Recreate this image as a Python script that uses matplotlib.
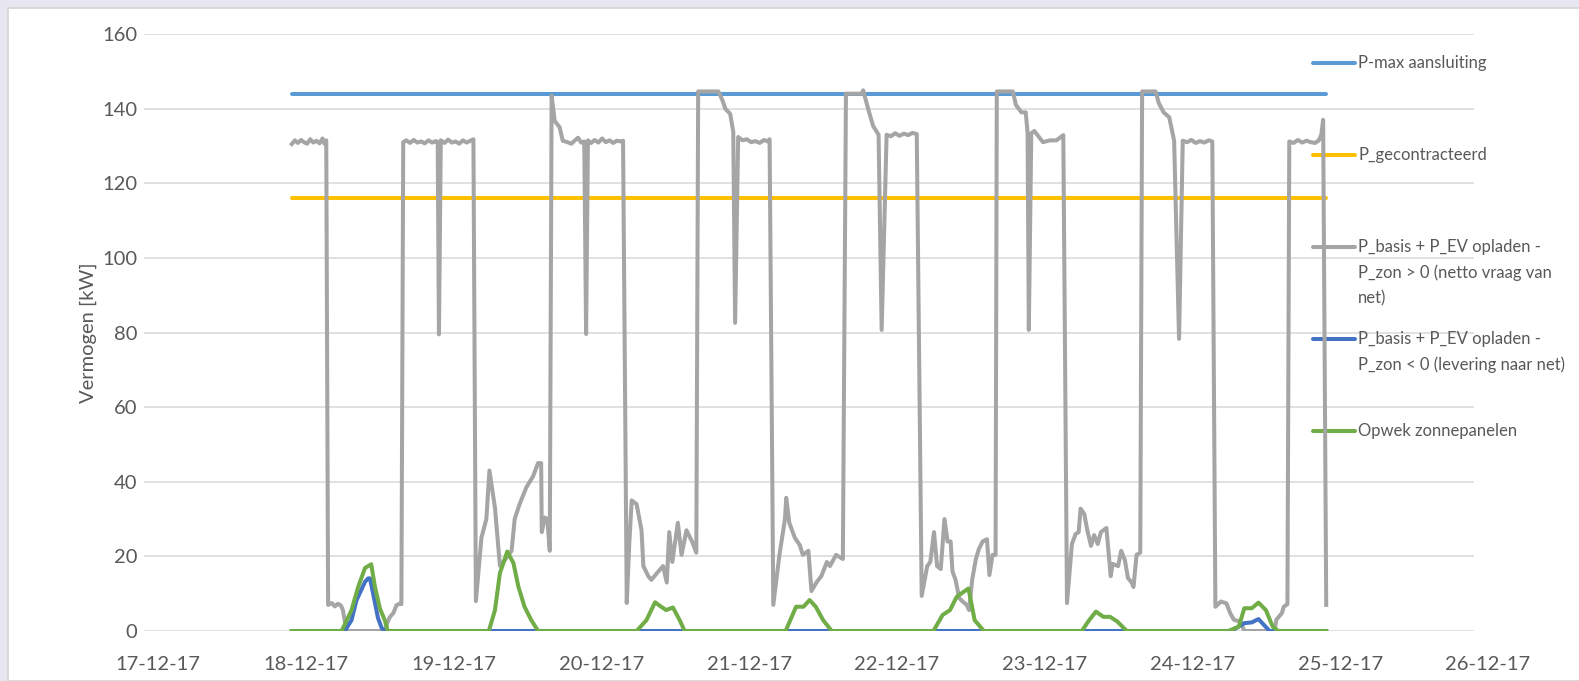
import matplotlib
matplotlib.use("Agg")
import matplotlib.pyplot as plt
import matplotlib.dates as mdates
import matplotlib.transforms as mtransforms
import pandas as pd
from matplotlib.lines import Line2D
from matplotlib.patches import Rectangle

plt.rcParams["font.family"] = ["Lato", "DejaVu Sans"]

START = pd.Timestamp("2017-12-18 00:00")

# horizontal reference levels [kW]
p_max = 144.0
p_contract = 116.0

# net demand from grid (grey), hours since 18-12-17 00:00 -> kW
grey_h = [0, 0.5, 1.0, 1.5, 2.0, 2.5, 3.0, 3.5, 4.0, 4.5, 5.0, 5.3, 5.6,
          5.9, 6.5, 7.0, 7.5, 8.0, 8.3, 8.9, 15.1, 15.5, 15.9, 16.5, 17.0, 17.5, 17.8,
          18.1, 18.6, 19.2, 19.8, 20.4, 21.0, 21.6, 22.2, 22.8, 23.4, 23.7, 23.9, 24.2,
          24.8, 25.4, 26.0, 26.6, 27.2, 27.8, 28.4, 29.0, 29.5,
          29.9, 30.8, 31.6, 32.1, 33.0, 33.8, 34.6, 35.7, 36.2, 37.0, 38.1, 39.2, 40.0,
          40.5, 40.6, 41.1, 41.5, 41.9,
          42.2, 42.7, 43.5, 44.0, 44.8, 45.4, 46.0, 46.5, 47.0, 47.5, 47.8, 48.1,
          48.6, 49.2, 49.8, 50.4, 51.0, 51.6, 52.2, 52.8, 53.4, 53.8,
          54.4, 54.8, 55.2, 56.0, 56.8, 57.1, 57.9, 58.4, 59.3, 60.3, 60.9, 61.3, 61.8,
          62.7, 63.3, 64.1, 65.0, 65.7,
          66.0, 69.3, 70.0, 70.4, 71.2, 71.7, 72.0, 72.5, 73.2, 73.9, 74.6, 75.3, 76.0,
          76.7, 77.3, 77.6,
          78.2, 79.2, 80.1, 80.3, 80.8, 81.7, 82.5, 83.0, 83.9, 84.4, 85.2, 86.0, 86.9,
          87.4, 88.4, 89.5,
          90.0, 92.6, 92.8, 93.6, 94.4, 95.3, 95.8, 96.6, 97.3, 98.0, 98.7, 99.4, 100.1,
          100.8, 101.5,
          102.3, 103.2, 103.7, 104.3, 104.8, 105.4, 106.0, 106.5, 107.0, 107.3, 107.8,
          108.4, 108.9, 109.6, 110.0, 110.5, 111.1, 111.6, 112.2, 112.9, 113.3, 113.8, 114.3,
          114.5, 117.1, 117.6, 118.5, 119.2, 119.5, 119.7, 120.1, 120.6, 122.0, 123.1,
          124.2, 125.3,
          125.9, 126.7, 127.3, 127.8, 128.1, 128.7, 129.2, 129.8, 130.3, 130.9, 131.4,
          132.3, 133.0, 133.3, 134.2, 134.7, 135.3, 135.8, 136.4, 136.7, 137.2, 137.8,
          138.1, 140.3, 140.8, 141.6, 142.5, 143.3, 144.1, 144.7, 145.4, 146.1, 146.8,
          147.5, 148.2, 148.9, 149.5,
          150.0, 150.9, 151.8, 152.4, 153.0, 154.1, 154.7, 159.6, 159.9, 160.8, 161.1, 161.7,
          162.0, 162.7, 163.4, 164.1, 164.8, 165.5, 166.2, 166.8, 167.2, 167.5, 168.0]
grey_kw = [130.5, 131.5, 130.8, 131.6, 131.0, 130.6, 131.8, 130.9, 131.4, 130.7, 132.0, 130.6, 131.5,
           7.0, 7.5, 6.6, 7.3, 6.8, 5.6, 0, 0, 2.1, 3.7, 4.8, 6.9, 7.3, 7.2,
           131.0, 131.5, 130.8, 131.6, 130.9, 131.2, 130.7, 131.5, 130.9, 131.3, 131.0, 79.5, 131.5,
           130.8, 131.7, 130.9, 131.2, 130.6, 131.5, 130.9, 131.4, 131.8,
           8.0, 25, 30, 43, 33, 17.5, 19, 21.5, 30, 34, 38.5, 41.5, 45,
           45, 26.5, 30.4, 30, 21.5,
           143.5, 136.7, 135, 131.4, 131.0, 130.6, 131.5, 132.2, 130.9, 131.2, 79.6, 131.5,
           130.8, 131.6, 130.9, 132.0, 131.0, 131.5, 130.8, 131.4, 131.2, 131.4,
           7.5, 23, 35, 34, 27, 17.4, 14.7, 13.7, 15.5, 17.4, 13, 26.5, 18.5,
           29, 20.4, 27, 24, 21,
           144.6, 144.6, 142, 140, 138.6, 133.8, 82.6, 132.4, 131.5, 131.8, 131.0, 131.3, 130.8,
           131.6, 131.2, 131.8,
           7, 20.4, 30, 35.7, 29, 25, 23, 20.4, 21.5, 10.7, 13, 14.7, 18.5,
           17.4, 20.4, 19.3,
           144, 144, 144.9, 140, 135.4, 133, 80.7, 133, 132.6, 133.4, 132.7, 133.3, 132.9,
           133.5, 133.2,
           9.4, 17.4, 18.5, 26.5, 17.4, 16.6, 30, 24, 24, 16, 13.7,
           8.8, 8, 7, 5.6, 13.7, 19.3, 22, 24, 24.6, 15, 20.4, 20.4,
           144.6, 144.6, 141, 139, 139, 133.4, 80.7, 133.4, 134, 131, 131.5,
           131.5, 132.9,
           7.5, 23.3, 26, 26.5, 32.8, 31.4, 27, 22.8, 25.7, 23.3, 26.5,
           27.6, 14.7, 18, 17.4, 21.5, 19, 14.2, 13, 11.8, 20.4, 21,
           144.6, 144.6, 141.5, 139, 137.7, 131.4, 78.3, 131.4, 131.0, 131.6, 130.8,
           131.3, 130.9, 131.5, 131.2,
           6.5, 7.9, 7.4, 4.8, 3, 2.5, 0, 0, 3, 4.8, 6.5, 7.2,
           131.2, 130.8, 131.6, 130.9, 131.4, 131.0, 130.8, 131.5, 133, 137, 7]

# export to grid (blue)
blue_h = [0, 8.6, 9.7, 10.5, 11.9, 12.4, 12.7, 13.2, 14.0, 14.6, 15.1,
          152.6, 154.7, 155.9, 157.0, 157.9, 158.8, 168]
blue_kw = [0, 0, 2.9, 8.2, 13.2, 14.1, 14.1, 10.1, 3.5, 0.8, 0,
           0, 2.1, 2.3, 3.2, 1.6, 0, 0]

# solar generation (green)
green_h = [0, 8.1, 9.7, 10.8, 11.9, 12.9, 13.5, 14.3, 15.1, 15.6,
           32.0, 33.0, 33.8, 35.0, 36.0, 36.8, 37.8, 38.9, 40.0,
           56.0, 57.6, 59.0, 60.0, 60.8, 61.9, 63.0, 63.8,
           80.2, 81.9, 83.1, 84.1, 85.1, 86.3, 87.7,
           104.2, 105.7, 106.9, 108.0, 109.9, 110.9, 112.4,
           128.3, 129.5, 130.6, 131.8, 132.9, 134.1, 135.6,
           152.1, 153.8, 154.7, 155.9, 157.0, 158.2, 159.3, 160.2, 168]
green_kw = [0, 0, 5.6, 11.9, 16.9, 17.9, 11.9, 6.1, 2.9, 0,
            0, 5.6, 15.5, 21.3, 18.2, 11.9, 6.5, 2.9, 0,
            0, 2.9, 7.7, 6.5, 5.6, 6.3, 2.9, 0,
            0, 6.5, 6.5, 8.3, 6.5, 2.9, 0,
            0, 4.3, 5.6, 9.2, 11.4, 2.9, 0,
            0, 2.9, 5.2, 3.8, 3.8, 2.5, 0,
            0, 1.2, 6.1, 6.1, 7.6, 5.6, 1.2, 0, 0]

labels = [
    ["P-max aansluiting"],
    ["P_gecontracteerd"],
    ["P_basis + P_EV opladen -", "P_zon > 0 (netto vraag van", "net)"],
    ["P_basis + P_EV opladen -", "P_zon < 0 (levering naar net)"],
    ["Opwek zonnepanelen"],
]
colors = ["#5B9BD5", "#FFC000", "#A5A5A5", "#4472C4", "#70AD47"]


def to_time(hours):
    return START + pd.to_timedelta(hours, unit="h")


W, H = 1579, 681
fig = plt.figure(figsize=(W / 100, H / 100), dpi=100, facecolor="#e8e6f0")
fig.patches.append(Rectangle((8 / W, 0), 1, 1 - 8 / H, transform=fig.transFigure,
                             facecolor="white", edgecolor="#d4d4d4", lw=1.2, zorder=-10))

ax = fig.add_axes([144 / W, 50 / H, 1330 / W, 597 / H])
ax.set_facecolor("none")
ax.set_zorder(2)

t_span = [to_time(0), to_time(168)]
lw = 2.9
ax.plot(t_span, [p_max, p_max], color=colors[0], lw=lw, solid_capstyle="round", zorder=3)
ax.plot(t_span, [p_contract, p_contract], color=colors[1], lw=lw, solid_capstyle="round", zorder=3)
ax.plot(to_time(grey_h), grey_kw, color=colors[2], lw=lw, solid_joinstyle="round", zorder=4)
ax.plot(to_time(blue_h), blue_kw, color=colors[3], lw=lw, zorder=5)
ax.plot(to_time(green_h), green_kw, color=colors[4], lw=lw, zorder=6)

ax.set_xlim(pd.Timestamp("2017-12-17"), pd.Timestamp("2017-12-26"))
ax.set_ylim(0, 160)
ax.set_yticks(range(0, 161, 20))
ax.xaxis.set_major_locator(mdates.DayLocator())
ax.xaxis.set_major_formatter(mdates.DateFormatter("%d-%m-%y"))
ax.grid(axis="y", color="#d9d9d9", lw=1.1, zorder=0)
ax.grid(axis="x", visible=False)
for s in ax.spines.values():
    s.set_visible(False)
ax.tick_params(axis="both", length=0, labelsize=14.5, labelcolor="#595959")
ax.tick_params(axis="x", pad=18)
ax.tick_params(axis="y", pad=5)
# Excel puts the date labels a little to the right of the day boundary
shift = mtransforms.ScaledTranslation(0.14, 0, fig.dpi_scale_trans)
for lbl in ax.get_xticklabels():
    lbl.set_transform(lbl.get_transform() + shift)
ax.set_ylabel("Vermogen [kW]", fontsize=14.5, color="#595959")
ax.yaxis.set_label_coords(-0.0355, 0.5)

# legend drawn by hand to match the spaced-out Excel layout
leg_y = [62.7, 155, 246.7, 339, 430.7]
for lines, col, y in zip(labels, colors, leg_y):
    fy = 1 - y / H
    fig.add_artist(Line2D([1313 / W, 1355 / W], [fy, fy], transform=fig.transFigure,
                          color=col, lw=lw, solid_capstyle="round"))
    for k, line in enumerate(lines):
        fig.text(1358 / W, 1 - (y + 26 * k) / H, line, fontsize=12, color="#595959",
                 va="center", ha="left")

fig.savefig("out.png", dpi=100, facecolor=fig.get_facecolor())
